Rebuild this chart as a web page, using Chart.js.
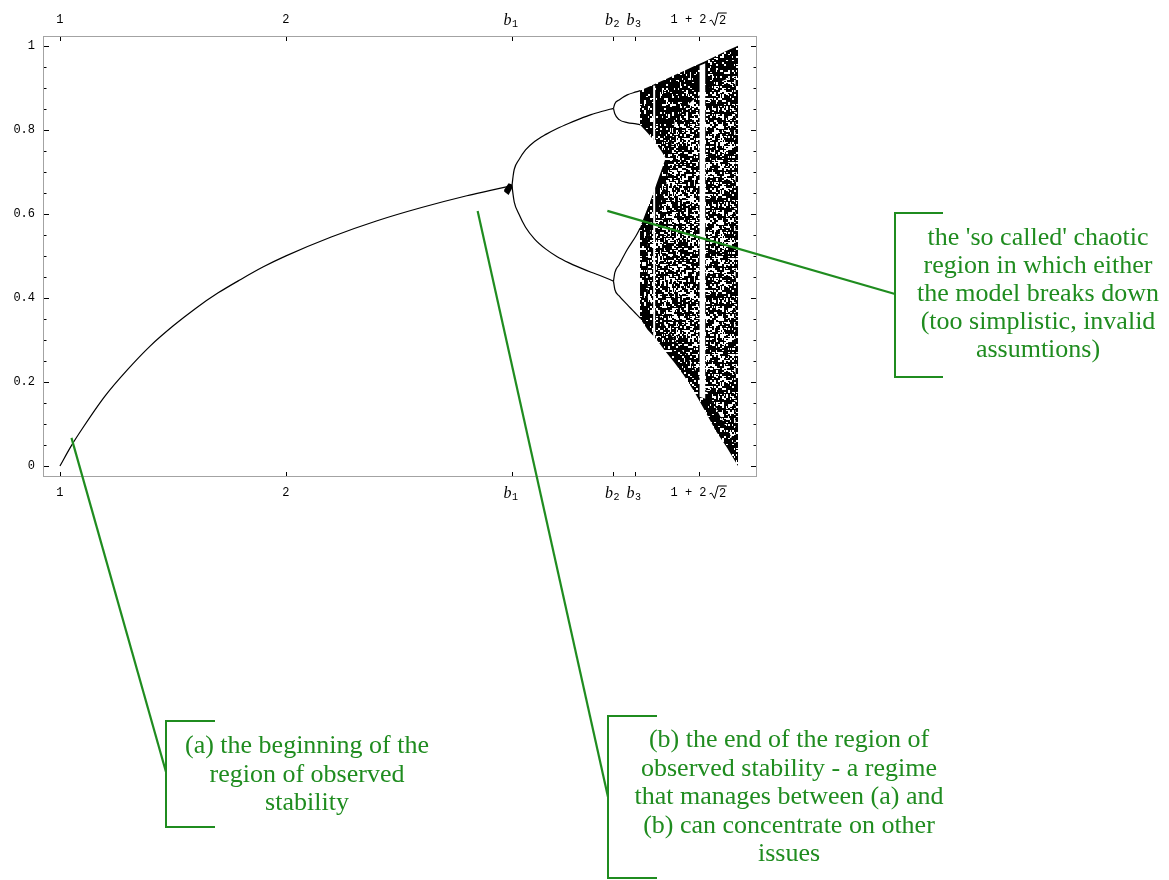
<!DOCTYPE html>
<html>
<head>
<meta charset="utf-8">
<script src="https://cdn.jsdelivr.net/npm/chart.js@4/dist/chart.umd.min.js"></script>
<style>
  html, body { margin: 0; padding: 0; background: #ffffff; }
  canvas { display: block; }
</style>
</head>
<body>
<canvas id="chart" width="1169" height="880"></canvas>
<script>
// ---- Logistic map x(n+1) = r x(n) (1 - x(n)) : long-run values of x against r ----

// stable fixed point, r from 1 to b1
const fixedR = [1.0, 1.05, 1.1, 1.2, 1.3, 1.4, 1.5, 1.6, 1.7, 1.8, 1.9, 2.0, 2.2, 2.4, 2.6, 2.8, 2.9, 3.0];
const fixedX = [0.0, 0.048, 0.09, 0.167, 0.23, 0.286, 0.333, 0.375, 0.412, 0.444, 0.474, 0.5, 0.545, 0.583, 0.615, 0.643, 0.655, 0.667];

// period-2 cycle, r from b1 to b2
const cycle2R     = [3.0, 3.005, 3.01, 3.03, 3.06, 3.1, 3.15, 3.2, 3.25, 3.3, 3.35, 3.4, 3.449];
const cycle2Upper = [0.667, 0.69, 0.706, 0.728, 0.752, 0.772, 0.789, 0.803, 0.815, 0.826, 0.836, 0.844, 0.851];
const cycle2Lower = [0.667, 0.645, 0.628, 0.6, 0.568, 0.54, 0.516, 0.498, 0.484, 0.472, 0.461, 0.451, 0.44];

// slow convergence just before b1
const knotR      = [2.965, 2.985, 3.003];
const knotTop    = [0.657, 0.673, 0.669];
const knotBottom = [0.653, 0.645, 0.663];

// period-4 cycle, r from b2 into the chaotic band
const cycle4R         = [3.449, 3.455, 3.474, 3.51, 3.549, 3.567];
const cycle4HighUpper = [0.851, 0.862, 0.871, 0.883, 0.89, 0.893];
const cycle4HighLower = [0.851, 0.838, 0.824, 0.817, 0.814, 0.812];
const cycle4LowUpper  = [0.44, 0.46, 0.479, 0.515, 0.548, 0.566];
const cycle4LowLower  = [0.44, 0.42, 0.405, 0.384, 0.362, 0.352];

// chaotic band: outer envelope
const chaosR      = [3.566, 3.6, 3.637, 3.68, 3.72, 3.76, 3.8, 3.85, 3.9, 3.95, 4.0];
const chaosTop    = [0.893, 0.901, 0.91, 0.92, 0.93, 0.94, 0.95, 0.962, 0.975, 0.988, 1.0];
const chaosBottom = [0.352, 0.324, 0.303, 0.272, 0.245, 0.216, 0.183, 0.135, 0.085, 0.045, 0.0];

// chaotic band: sparser interior
const sparseR      = [3.6, 3.64, 3.68, 3.72, 3.76, 3.8, 3.85, 3.9, 3.95, 3.99];
const sparseTop    = [0.54, 0.6, 0.66, 0.82, 0.85, 0.87, 0.89, 0.91, 0.92, 0.93];
const sparseBottom = [0.4, 0.37, 0.33, 0.3, 0.27, 0.24, 0.19, 0.14, 0.09, 0.05];

// gap between the two chaotic bands before they merge
const gapR      = [3.566, 3.59, 3.614, 3.64, 3.66, 3.68];
const gapTop    = [0.812, 0.798, 0.784, 0.765, 0.75, 0.733];
const gapBottom = [0.566, 0.6, 0.633, 0.672, 0.702, 0.733];

// periodic windows inside the chaos
const window3R      = [3.829, 3.856];
const window3Top    = [0.952, 0.958];
const window3Bottom = [0.165, 0.16];
const window6R      = [3.629, 3.629];
const window6X      = [0.305, 0.905];

// axis ticks
const xTickValues = [1, 2, 3, 3.449, 3.544, 3.828];
const xTickLabels = ['1', '2', 'b1', 'b2', 'b3', '1 + 2√2'];
const yTickValues = [0, 0.2, 0.4, 0.6, 0.8, 1];
const yTickLabels = ['0', '0.2', '0.4', '0.6', '0.8', '1'];
const yMinorValues = [0.05, 0.1, 0.15, 0.25, 0.3, 0.35, 0.45, 0.5, 0.55, 0.65, 0.7, 0.75, 0.85, 0.9, 0.95];

// ---- helpers ----
const zip = (xs, ys) => xs.map((x, i) => ({ x, y: ys[i] }));
const NONE = 'rgba(0,0,0,0)';

// integer hash used for the grain texture (fixed, same every run)
function mix(a, b) {
  let h = Math.imul(a + 0x7F4A7C15, 0x9E3779B1) ^ Math.imul(b + 0x6A09E667, 0x85EBCA77);
  h ^= h >>> 15; h = Math.imul(h, 0x2C1B3C6D);
  h ^= h >>> 12; h = Math.imul(h, 0x297A2D39);
  h ^= h >>> 15;
  return h >>> 0;
}

// grainy black texture for the chaotic region
function grain(whiteShare, seed) {
  const size = 96, cell = 2;
  const tile = document.createElement('canvas');
  tile.width = tile.height = size;
  const t = tile.getContext('2d');
  t.fillStyle = '#000';
  t.fillRect(0, 0, size, size);
  t.fillStyle = '#fff';
  for (let cy = 0; cy < size / cell; cy++) {
    for (let cx = 0; cx < size / cell; cx++) {
      const h = mix(cx + seed * 131, cy);
      if ((h % 1000) / 1000 < whiteShare) {
        const shape = (h >>> 24) & 3;
        const w = shape === 1 ? 1 : cell;
        const hh = shape === 2 ? 1 : cell;
        t.fillRect(cx * cell, cy * cell, w, hh);
      }
    }
  }
  return document.createElement('canvas').getContext('2d').createPattern(tile, 'repeat');
}

function band(xs, top, bottom, color, order) {
  return [
    { data: zip(xs, top), borderColor: NONE, borderWidth: 0, pointRadius: 0,
      backgroundColor: color, fill: '+1', order, tension: 0 },
    { data: zip(xs, bottom), borderColor: NONE, borderWidth: 0, pointRadius: 0,
      fill: false, order, tension: 0 }
  ];
}

function curve(xs, ys, extra) {
  return Object.assign({
    data: zip(xs, ys), borderColor: '#000', borderWidth: 1.2, pointRadius: 0,
    fill: false, cubicInterpolationMode: 'monotone', order: 5
  }, extra || {});
}

const datasets = [
  ...band(chaosR, chaosTop, chaosBottom, grain(0.22, 1), 50),
  ...band(sparseR, sparseTop, sparseBottom, grain(0.47, 2), 40),
  ...band(gapR, gapTop, gapBottom, '#ffffff', 30),
  ...band(window3R, window3Top, window3Bottom, '#ffffff', 20),
  curve(window6R, window6X, { borderColor: '#ffffff', borderWidth: 2, cubicInterpolationMode: 'default', tension: 0, order: 20 }),
  ...band(knotR, knotTop, knotBottom, '#000000', 10),
  curve(fixedR, fixedX),
  curve(cycle2R, cycle2Upper),
  curve(cycle2R, cycle2Lower),
  curve(cycle4R, cycle4HighUpper),
  curve(cycle4R, cycle4HighLower),
  curve(cycle4R, cycle4LowUpper),
  curve(cycle4R, cycle4LowLower)
];

// ---- frame, ticks and tick labels ----
function drawTickLabel(ctx, label, cx, cy) {
  ctx.fillStyle = '#000';
  const sub = /^b(\d)$/.exec(label);
  if (sub) {
    ctx.font = 'italic 16px "Liberation Serif"';
    const wb = ctx.measureText('b').width;
    ctx.font = '10px "Liberation Mono"';
    const ws = ctx.measureText(sub[1]).width;
    const x0 = cx - (wb + ws) / 2 - 1.5;
    ctx.textAlign = 'left';
    ctx.textBaseline = 'alphabetic';
    ctx.font = 'italic 16px "Liberation Serif"';
    ctx.fillText('b', x0, cy + 5);
    ctx.font = '10px "Liberation Mono"';
    ctx.fillText(sub[1], x0 + wb + 0.5, cy + 6.5);
    return;
  }
  if (label.includes('√')) {
    const [pre, rad] = label.split('√');
    ctx.font = '12px "Liberation Mono"';
    const wp = ctx.measureText(pre).width;
    const wr = ctx.measureText(rad).width;
    const total = wp + 3 + 9 + wr;
    const x0 = cx - total / 2 - 1;
    ctx.textAlign = 'left';
    ctx.textBaseline = 'middle';
    ctx.fillText(pre, x0, cy);
    const rx = x0 + wp + 3;
    ctx.strokeStyle = '#000';
    ctx.lineWidth = 1;
    ctx.beginPath();
    ctx.moveTo(rx, cy + 1);
    ctx.lineTo(rx + 2, cy);
    ctx.lineTo(rx + 5, cy + 5.5);
    ctx.lineTo(rx + 8.5, cy - 7);
    ctx.lineTo(rx + 9 + wr + 1, cy - 7);
    ctx.stroke();
    ctx.fillText(rad, rx + 9.5, cy + 0.5);
    return;
  }
  ctx.font = '12px "Liberation Mono"';
  ctx.textAlign = 'center';
  ctx.textBaseline = 'middle';
  ctx.fillText(label, cx, cy);
}

const framePlugin = {
  id: 'frame',
  beforeDatasetsDraw(chart) {
    const { ctx, chartArea: { left, top, right, bottom } } = chart;
    ctx.save();
    ctx.strokeStyle = '#a3a3a3';
    ctx.lineWidth = 1;
    ctx.strokeRect(left + 0.5, top + 0.5, right - left - 1, bottom - top - 1);
    ctx.restore();
  },
  afterDatasetsDraw(chart) {
    const { ctx, chartArea: { left, top, right, bottom }, scales: { x, y } } = chart;
    ctx.save();
    ctx.strokeStyle = '#000';
    ctx.lineWidth = 1;
    ctx.beginPath();
    xTickValues.forEach(v => {
      const px = Math.round(x.getPixelForValue(v)) + 0.5;
      ctx.moveTo(px, top + 1); ctx.lineTo(px, top + 5);
      ctx.moveTo(px, bottom - 1); ctx.lineTo(px, bottom - 5);
    });
    yTickValues.forEach(v => {
      const py = Math.round(y.getPixelForValue(v)) + 0.5;
      ctx.moveTo(left + 1, py); ctx.lineTo(left + 6, py);
      ctx.moveTo(right - 1, py); ctx.lineTo(right - 6, py);
    });
    yMinorValues.forEach(v => {
      const py = Math.round(y.getPixelForValue(v)) + 0.5;
      ctx.moveTo(left + 1, py); ctx.lineTo(left + 3.5, py);
      ctx.moveTo(right - 1, py); ctx.lineTo(right - 3.5, py);
    });
    ctx.stroke();

    xTickValues.forEach((v, i) => {
      const px = x.getPixelForValue(v);
      drawTickLabel(ctx, xTickLabels[i], px, top - 16);
      drawTickLabel(ctx, xTickLabels[i], px, bottom + 16);
    });
    ctx.font = '12px "Liberation Mono"';
    ctx.textAlign = 'right';
    ctx.textBaseline = 'middle';
    ctx.fillStyle = '#000';
    yTickValues.forEach((v, i) => {
      ctx.fillText(yTickLabels[i], left - 8, y.getPixelForValue(v));
    });
    ctx.restore();
  }
};

// ---- green call-outs ----
const GREEN = '#1f8c1f';
const callouts = [
  { from: [1.051, 0.067], to: [166, 772], bracket: { x: 166, y0: 721, y1: 827, arm: 49 },
    lines: ['(a) the beginning of the', 'region of observed', 'stability'],
    cx: 307, base: 753, lh: 28.5 },
  { from: [2.848, 0.607], to: [608, 797], bracket: { x: 608, y0: 716, y1: 878, arm: 49 },
    lines: ['(b) the end of the region of', 'observed stability - a regime', 'that manages between (a) and', '(b) can concentrate on other', 'issues'],
    cx: 789, base: 747, lh: 28.6 },
  { from: [3.422, 0.607], to: [895, 294], bracket: { x: 895, y0: 213, y1: 377, arm: 48 },
    lines: ["the 'so called' chaotic", 'region in which either', 'the model breaks down', '(too simplistic, invalid', 'assumtions)'],
    cx: 1038, base: 245, lh: 28 }
];

const calloutPlugin = {
  id: 'callouts',
  afterDraw(chart) {
    const { ctx, scales: { x, y } } = chart;
    ctx.save();
    ctx.strokeStyle = GREEN;
    ctx.fillStyle = GREEN;
    callouts.forEach(c => {
      ctx.lineWidth = 2.2;
      ctx.beginPath();
      ctx.moveTo(x.getPixelForValue(c.from[0]), y.getPixelForValue(c.from[1]));
      ctx.lineTo(c.to[0], c.to[1]);
      ctx.stroke();
      const b = c.bracket;
      ctx.lineWidth = 2;
      ctx.beginPath();
      ctx.moveTo(b.x + b.arm, b.y0);
      ctx.lineTo(b.x, b.y0);
      ctx.lineTo(b.x, b.y1);
      ctx.lineTo(b.x + b.arm, b.y1);
      ctx.stroke();
      ctx.font = '26px "Liberation Serif"';
      ctx.textAlign = 'center';
      ctx.textBaseline = 'alphabetic';
      c.lines.forEach((t, i) => ctx.fillText(t, c.cx, c.base + i * c.lh));
    });
    ctx.restore();
  }
};

new Chart(document.getElementById('chart'), {
  type: 'line',
  data: { datasets },
  options: {
    responsive: false,
    animation: false,
    devicePixelRatio: 1,
    layout: { padding: { left: 43, top: 36, right: 412, bottom: 403 } },
    plugins: { legend: { display: false }, tooltip: { enabled: false } },
    scales: {
      x: { type: 'linear', min: 0.925, max: 4.084, display: false },
      y: { type: 'linear', min: -0.026, max: 1.023, display: false }
    }
  },
  plugins: [framePlugin, calloutPlugin]
});
</script>
</body>
</html>
